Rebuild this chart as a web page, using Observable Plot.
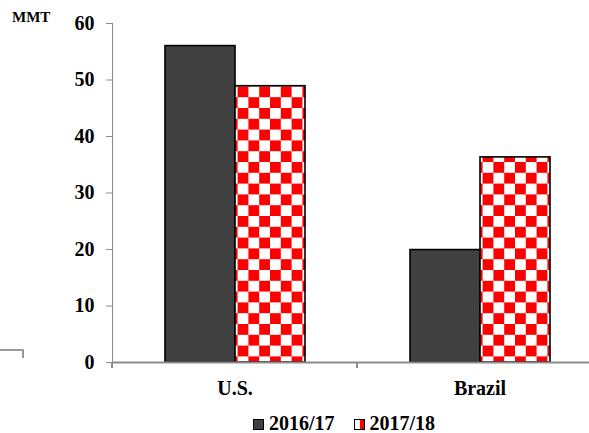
<!DOCTYPE html>
<html>
<head>
<meta charset="utf-8">
<script src="https://cdn.jsdelivr.net/npm/d3@7"></script>
<script src="https://cdn.jsdelivr.net/npm/@observablehq/plot@0.6"></script>
<style>
  html, body { margin: 0; padding: 0; background: #fff; overflow: hidden; width: 589px; height: 433px; }
  #wrap { position: relative; width: 589px; height: 433px; overflow: hidden; }
  #chart svg { display: block; max-width: none !important; width: 602px !important; height: 400px !important; }
  #chart svg text { fill: #000; font-family: "Liberation Serif", "Times New Roman", serif; font-weight: bold; font-size: 20px; }
  #chart svg text.unit { font-size: 15px; text-anchor: start; }
  #legend { position: absolute; left: 253px; top: 412px; display: flex; justify-content: flex-start; gap: 19px;
            font: bold 20px/22px "Liberation Serif", "Times New Roman", serif; color: #000; }
  #legend .item { display: flex; align-items: center; gap: 5px; }
  #legend .sw { width: 9px; height: 9px; border: 1px solid #000; box-sizing: content-box; margin-top: 2px; }
  #artifact { position: absolute; left: 0; top: 349px; width: 22px; height: 7px; border-top: 2px solid #999; border-right: 2px solid #999; }
</style>
</head>
<body>
<div id="wrap">
  <div id="chart"></div>
  <div id="artifact"></div>
  <div id="legend"></div>
</div>
<script>
const countries = ["U.S.", "Brazil"];
const years = ["2016/17", "2017/18"];
const valuesUS = [56.0, 48.9];
const valuesBrazil = [19.9, 36.3];
const yTicks = [0, 10, 20, 30, 40, 50, 60];
const unitLabel = "MMT";

const seriesColors = ["#404040", "url(#checks)"];

const data = [];
[valuesUS, valuesBrazil].forEach((vals, ci) => {
  vals.forEach((v, yi) => data.push({country: countries[ci], year: years[yi], value: v}));
});

const chart = Plot.plot({
  width: 602,
  height: 400,
  marginLeft: 112,
  marginRight: 0,
  marginTop: 23,
  marginBottom: 38,
  style: {fontFamily: '"Liberation Serif", "Times New Roman", serif', fontSize: "20px", fontWeight: "bold", color: "#8c8c8c", background: "#fff"},
  facet: {data, x: "country"},
  fx: {domain: countries, padding: 0, axis: "bottom", tickSize: 0, tickPadding: 18, label: null},
  x: {domain: years, paddingInner: 0, paddingOuter: 0.75, axis: null},
  y: {domain: [0, 60], ticks: yTicks, tickSize: 6, tickPadding: 12, line: true, label: null},
  color: {domain: years, range: seriesColors},
  marks: [
    Plot.barY(data, {x: "year", y: "value", fill: "year", stroke: "#000", strokeWidth: 1.6}),
    Plot.ruleY([0], {stroke: "#8c8c8c", strokeWidth: 2})
  ]
});

document.getElementById("chart").appendChild(chart);

// checker pattern definition
const svg = d3.select(chart);
const defs = svg.insert("defs", ":first-child");
const cell = 10.8;
const pat = defs.append("pattern").attr("id", "checks").attr("patternUnits", "userSpaceOnUse")
  .attr("width", cell * 2).attr("height", cell * 2);
pat.append("rect").attr("width", cell * 2).attr("height", cell * 2).attr("fill", "#fff");
pat.append("rect").attr("x", 0).attr("y", 0).attr("width", cell).attr("height", cell).attr("fill", "#ff0000");
pat.append("rect").attr("x", cell).attr("y", cell).attr("width", cell).attr("height", cell).attr("fill", "#ff0000");

// category boundary ticks on the x axis, from the fx scale
const fxs = chart.scale("fx");
const ys = chart.scale("y");
const band = d3.scaleBand().domain(fxs.domain).range(fxs.range).padding(0);
const yScale = d3.scaleLinear().domain(ys.domain).range(ys.range);
const y0 = yScale(0);
const edges = fxs.domain.map(d => band(d)).concat([band.range()[1]]);
svg.append("g").selectAll("line").data(edges).join("line")
  .attr("x1", d => d).attr("x2", d => d).attr("y1", y0).attr("y2", y0 + 6)
  .attr("stroke", "#8c8c8c").attr("stroke-width", 2);

// unit label
svg.append("text").attr("class", "unit").attr("text-anchor", "start")
  .attr("x", 12).attr("y", yScale(60) - 1).text(unitLabel);

// legend
const legend = d3.select("#legend");
years.forEach((yr, i) => {
  const it = legend.append("div").attr("class", "item");
  const sw = it.append("div").attr("class", "sw");
  if (i === 0) sw.style("background", seriesColors[0]);
  else sw.style("background", "linear-gradient(90deg, #fff 50%, #ff0000 50%)");
  it.append("span").text(yr);
});
</script>
</body>
</html>
